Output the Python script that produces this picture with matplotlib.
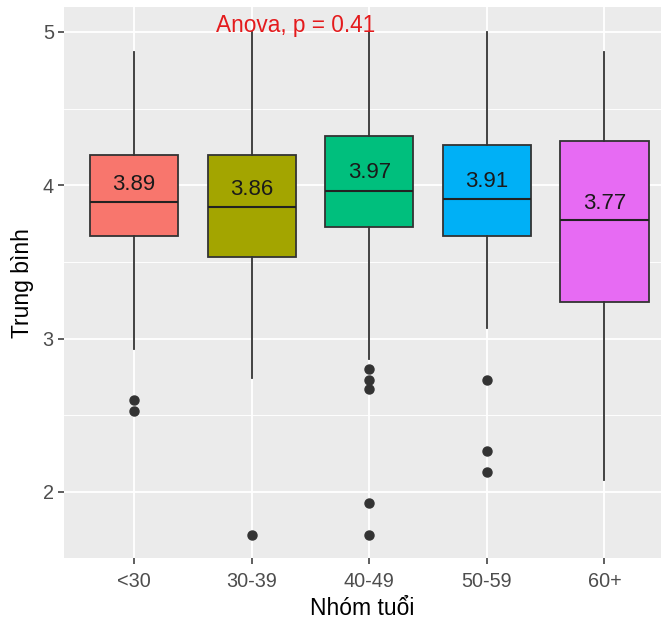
import matplotlib
matplotlib.use("Agg")
import matplotlib.pyplot as plt
from matplotlib.ticker import MultipleLocator

plt.rcParams['font.family'] = ['Liberation Sans', 'DejaVu Sans']

# ---- data ----
groups = ["<30", "30-39", "40-49", "50-59", "60+"]
q1 = [3.67, 3.53, 3.73, 3.67, 3.24]
medians = [3.89, 3.86, 3.965, 3.91, 3.775]
q3 = [4.20, 4.20, 4.32, 4.26, 4.29]
whisker_low = [2.93, 2.74, 2.87, 3.07, 2.08]
whisker_high = [4.87, 5.0, 5.0, 5.0, 4.87]
outliers = [
    [2.60, 2.53],
    [1.72],
    [2.80, 2.73, 2.67, 1.93, 1.72],
    [2.73, 2.27, 2.13],
    [],
]
means = [3.89, 3.86, 3.97, 3.91, 3.77]
mean_labels = ["3.89", "3.86", "3.97", "3.91", "3.77"]
colors = ["#F8766D", "#A3A500", "#00BF7D", "#00B0F6", "#E76BF3"]
anova_text = "Anova, p = 0.41"
xlabel = "Nhóm tuổi"
ylabel = "Trung bình"

W, H = 661, 622
fig = plt.figure(figsize=(W / 100, H / 100), dpi=100)
left_px, top_px, bottom_px = 63.5, 7.3, 558.3
ax = fig.add_axes([left_px / W, 1 - bottom_px / H, 1 - left_px / W, (bottom_px - top_px) / H])
ax.set_facecolor("#EBEBEB")
for s in ax.spines.values():
    s.set_visible(False)

tick_space = 117.6
ax.set_xlim(0.4, 0.4 + (W - left_px) / tick_space)
ax.set_ylim(1.567, 5.161)

ax.yaxis.set_major_locator(MultipleLocator(1))
ax.yaxis.set_minor_locator(MultipleLocator(0.5))
ax.grid(True, which="major", color="white", lw=1.3)
ax.grid(True, which="minor", axis="y", color="white", lw=0.65)
ax.set_axisbelow(True)

stats = []
for i in range(len(groups)):
    stats.append(dict(med=medians[i], q1=q1[i], q3=q3[i],
                      whislo=whisker_low[i], whishi=whisker_high[i],
                      fliers=outliers[i], label=groups[i]))

pos = list(range(1, len(groups) + 1))
bp = ax.bxp(stats, positions=pos, widths=0.75, patch_artist=True,
            showcaps=False, showfliers=True,
            boxprops=dict(edgecolor="#333333", linewidth=1.3),
            medianprops=dict(color="#222222", linewidth=1.5),
            whiskerprops=dict(color="#333333", linewidth=1.3),
            flierprops=dict(marker="o", markerfacecolor="#333333",
                            markeredgecolor="#333333", markersize=6.5))
for patch, c in zip(bp["boxes"], colors):
    patch.set_facecolor(c)
    patch.set_zorder(2)

for x, m, lab in zip(pos, means, mean_labels):
    ax.annotate(lab, (x, m), xytext=(0, 12.5), textcoords="offset points",
                ha="center", va="center", fontsize=16, color="#1a1a1a", zorder=5)

ax.text(1.70, 5.0, anova_text, ha="left", va="baseline",
        fontsize=16.3, color="#E41A1C", zorder=5)

ax.set_xticks(pos)
ax.set_xticklabels(groups)
ax.tick_params(axis="both", which="major", length=4, width=1.1, color="#333333",
               labelsize=14.3, labelcolor="#4D4D4D", pad=3)
ax.tick_params(axis="y", which="minor", length=0)
ax.tick_params(axis="x", pad=6)

ax.set_xlabel(xlabel, fontsize=16.5, color="black", labelpad=4)
ax.set_ylabel(ylabel, fontsize=16.5, color="black", labelpad=6)

fig.savefig("out.png", dpi=100)
